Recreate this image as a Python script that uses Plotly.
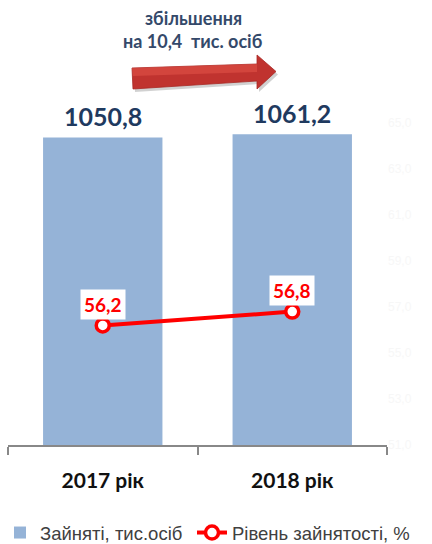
import plotly.graph_objects as go

# ---- data ----
categories = ["2017 рік", "2018 рік"]
employed = [1050.8, 1061.2]          # тис. осіб
employment_rate = [56.2, 56.8]       # %
bar_name = "Зайняті, тис.осіб"
line_name = "Рівень зайнятості, %"
note_lines = ["збільшення", "на 10,4  тис. осіб"]

W, H = 432, 544
L, R, T, B = 8, 45, 123, 99
PW, PH = W - L - R, H - T - B


def px(x):
    return (x - L) / PW


def py(y):
    return (H - B - y) / PH


fig = go.Figure()
fig.add_trace(go.Bar(
    x=categories, y=employed, name=bar_name,
    marker=dict(color="#95B3D7", line=dict(width=0)),
    width=0.63, yaxis="y", legend="legend",
))
fig.add_trace(go.Scatter(
    x=categories, y=employment_rate, name=line_name, yaxis="y2",
    mode="lines+markers", legend="legend2",
    line=dict(color="#FF0000", width=4),
    marker=dict(symbol="circle", size=13, color="white",
                line=dict(color="#FF0000", width=3.5)),
))

annotations = []
for c, v in zip(categories, employed):
    annotations.append(dict(
        x=c, y=v, xref="x", yref="y", text=f"{v:.1f}".replace(".", ","),
        showarrow=False, yanchor="middle", yshift=21,
        font=dict(family="Lato", size=25, color="#1F3A5F", weight="bold"),
    ))
for c, v in zip(categories, employment_rate):
    annotations.append(dict(
        x=c, y=v, xref="x", yref="y2", text=f"{v:.1f}".replace(".", ","),
        showarrow=False, yanchor="middle", yshift=21,
        bgcolor="white", borderpad=3,
        font=dict(family="Lato", size=19, color="#FF0000", weight="bold"),
    ))
for i, t in enumerate(note_lines):
    annotations.append(dict(
        x=px(193), y=py(18 + 23 * i), xref="paper", yref="paper",
        text=t, showarrow=False, xanchor="center", yanchor="middle",
        font=dict(family="Lato", size=18, color="#34496A", weight="bold"),
    ))


def path(points):
    s = "M " + " L ".join(f"{px(a):.4f},{py(b):.4f}" for a, b in points) + " Z"
    return s


arrow_pts = [(132, 68), (257, 64), (257, 55), (276, 71.5), (257, 89), (257, 81), (133, 89)]
shadow_pts = [(a + 2, b + 3) for a, b in arrow_pts]
hi_pts = [(132, 68), (257, 64), (257, 72), (133, 76)]
shapes = [
    dict(type="path", xref="paper", yref="paper", path=path(shadow_pts),
         fillcolor="rgba(0,0,0,0.18)", line=dict(width=0), layer="above"),
    dict(type="path", xref="paper", yref="paper", path=path(arrow_pts),
         fillcolor="#C0332F", line=dict(width=0.8, color="#A82824"), layer="above"),
    dict(type="path", xref="paper", yref="paper", path=path(hi_pts),
         fillcolor="rgba(235,90,80,0.45)", line=dict(width=0), layer="above"),
]

legend_font = dict(family="Liberation Sans", size=18.5, color="#404040")
fig.update_layout(
    width=W, height=H,
    margin=dict(l=L, r=R, t=T, b=B),
    paper_bgcolor="white", plot_bgcolor="white",
    separators=", ",
    font=dict(family="Liberation Sans", color="#404040"),
    showlegend=True,
    legend=dict(orientation="h", xref="container", yref="container",
                x=-9 / W, y=1 - 533 / H, xanchor="left", yanchor="middle",
                font=legend_font, itemwidth=30, bgcolor="rgba(0,0,0,0)"),
    legend2=dict(orientation="h", xref="container", yref="container",
                 x=192 / W, y=1 - 533 / H, xanchor="left", yanchor="middle",
                 font=legend_font, itemwidth=30, bgcolor="rgba(0,0,0,0)"),
    xaxis=dict(type="category", range=[-0.5, 1.5], showline=True, linecolor="#888888",
               linewidth=1.5, ticks="outside", tickson="boundaries", ticklen=8,
               tickcolor="#888888", tickwidth=1.5, showgrid=False,
               ticklabelstandoff=16, automargin=False,
               tickfont=dict(family="Lato", size=21, color="#111111", weight="bold")),
    yaxis=dict(range=[0, 1100], visible=False, showgrid=False),
    yaxis2=dict(range=[51, 65], overlaying="y", side="right", dtick=2, tick0=51,
                tickformat=".1f", showgrid=False, showline=False, zeroline=False,
                ticks="", automargin=False,
                tickfont=dict(family="Liberation Sans", size=12, color="#F7F7F7")),
    bargap=0.37,
    annotations=annotations,
    shapes=shapes,
)

fig.write_html(
    "out.html",
    config={"displayModeBar": False},
    post_script="document.body.style.margin='0px';document.body.style.overflow='hidden';",
)
